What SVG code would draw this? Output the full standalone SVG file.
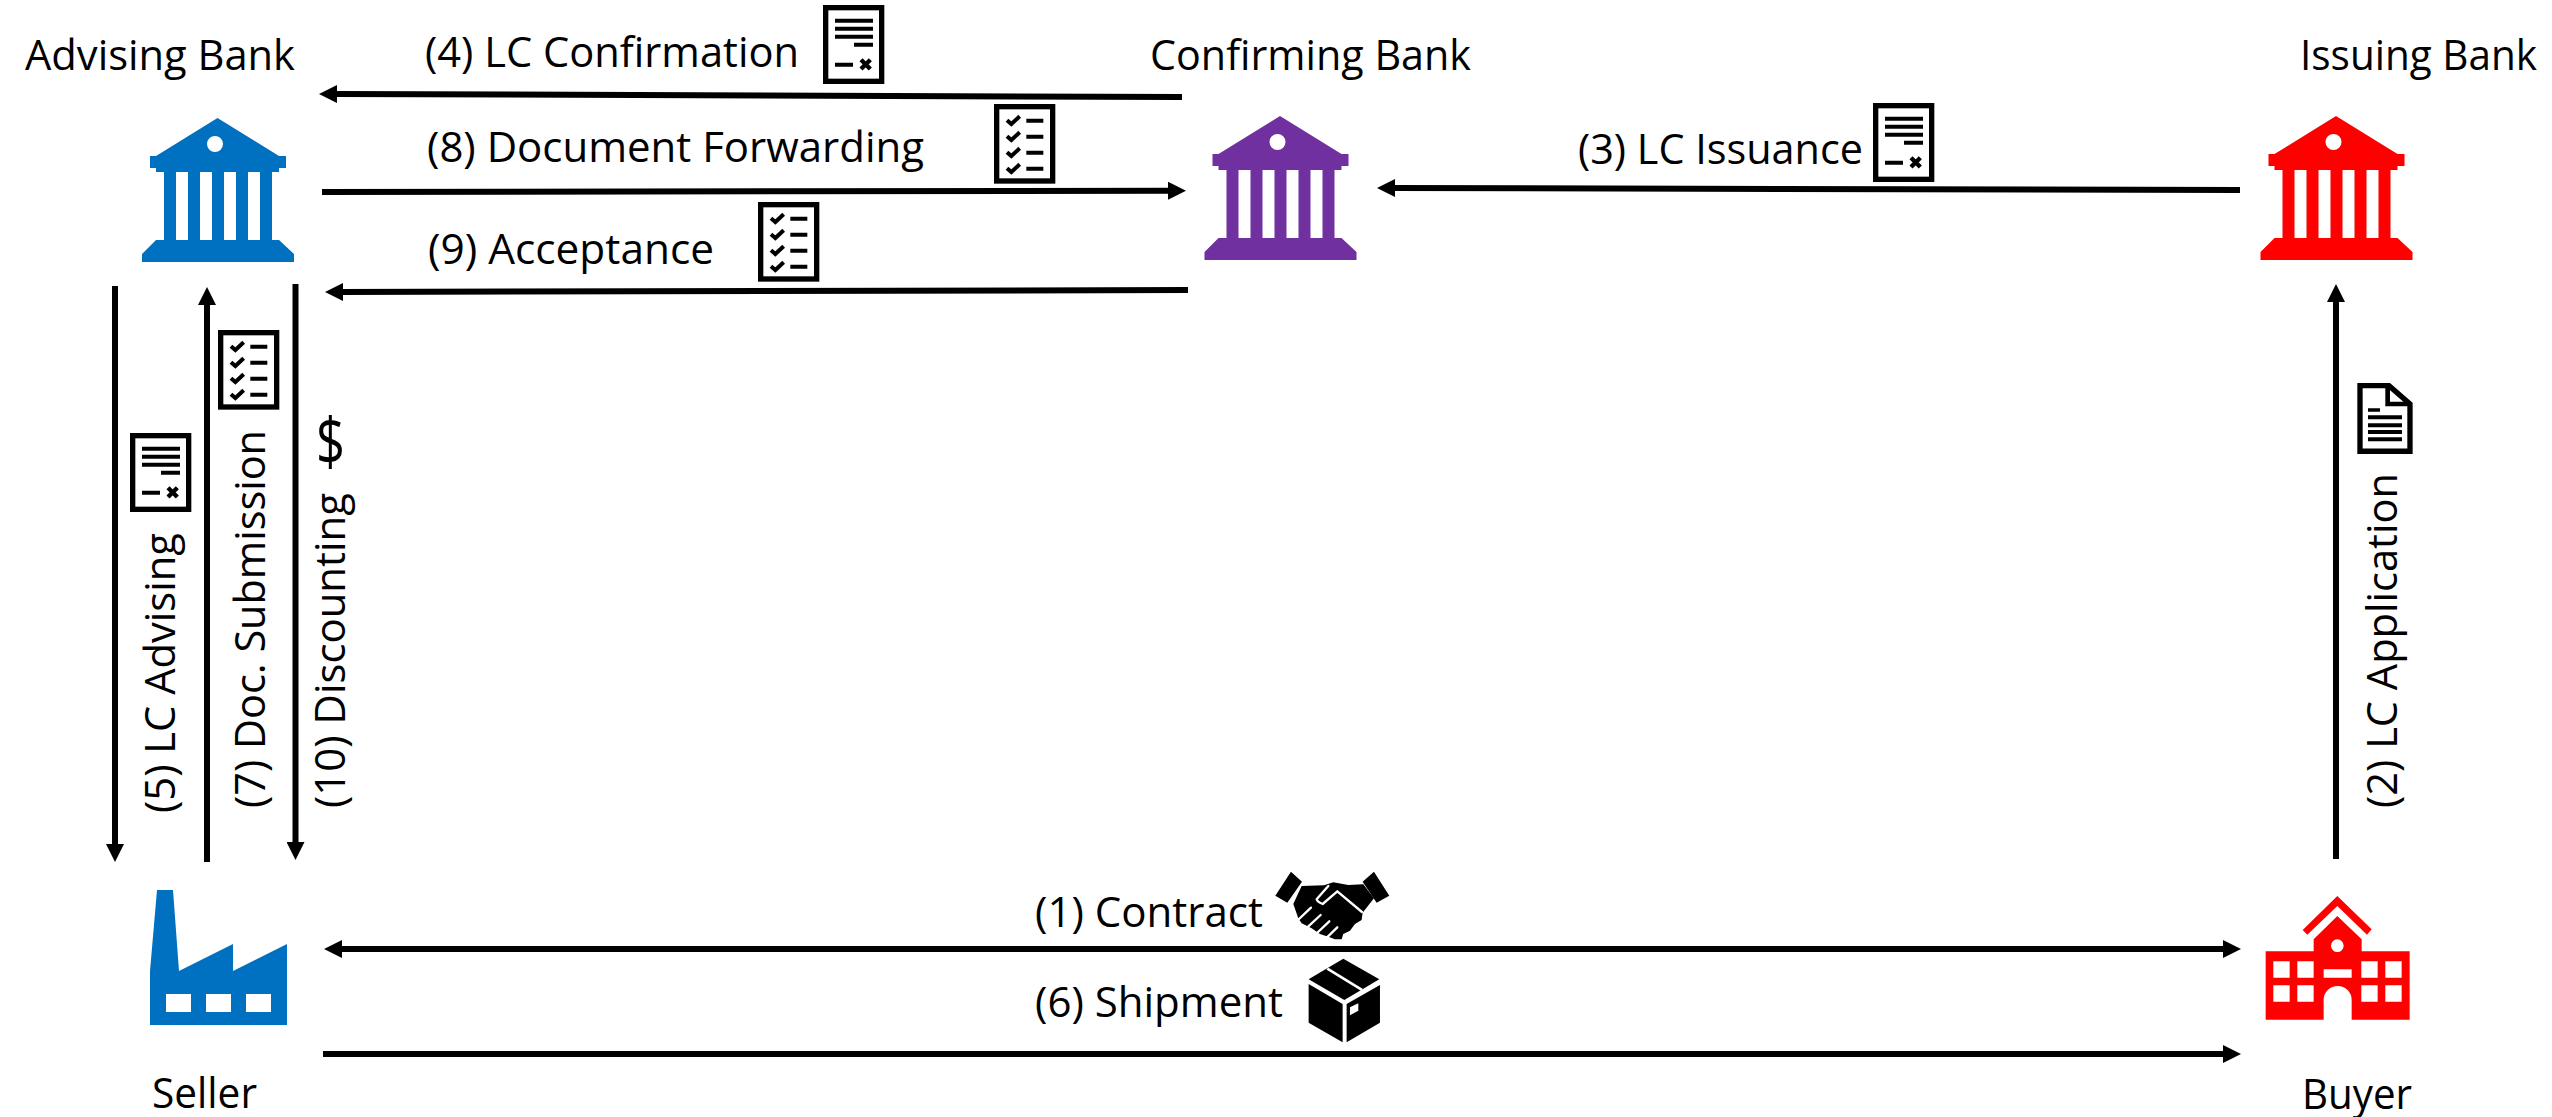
<svg xmlns="http://www.w3.org/2000/svg" width="2552" height="1117" viewBox="0 0 2552 1117">
<style>
text{font-family:"Open Sans","Lato","Liberation Sans",sans-serif;font-size:42px;fill:#000;font-variant-ligatures:none}
.conn{fill:none;stroke:#000;stroke-width:6}
.arrow{marker-end:url(#head)}
.both{marker-start:url(#head);marker-end:url(#head)}
.blue{fill:#0070c0}.purple{fill:#7030a0}.red{fill:#f00}
.frame{fill:#fff;stroke:#000;stroke-width:16}
.ink{fill:#000}
.tick{fill:none;stroke:#000;stroke-width:12}
.cut{fill:none;stroke:#fff;stroke-width:7;stroke-linecap:round;stroke-linejoin:round}
</style>
<defs>
<marker id="head" markerUnits="userSpaceOnUse" markerWidth="18" markerHeight="18" refX="2" refY="9" orient="auto-start-reverse"><path d="M0 0L18 9L0 18Z" fill="#000"/></marker>
<path id="bank" fill-rule="evenodd" d="M217.5 118L279 156H286V168H279V172H272V240H279L294 254V262H142V254L156 240H164V172H156V168H150V156H156ZM176 172H188V240H176ZM200 172H212V240H200ZM224 172H236V240H224ZM248 172H260V240H248ZM207 144a8 8 0 1 0 16 0a8 8 0 1 0 -16 0Z"/>
<g id="lc-doc" transform="scale(.3333)">
<rect class="frame" x="8" y="8" width="168" height="221"/>
<path class="ink" d="M36 41H150V53H36ZM36 65H150V77H36ZM36 89H150V101H36ZM93 113H150V125H93ZM36 173H90V185H36Z"/>
<path d="M114 164L142 192M142 164L114 192" stroke="#000" stroke-width="13" fill="none"/>
</g>
<g id="check-doc" transform="scale(.3333)">
<rect class="frame" x="8" y="8" width="168" height="223"/>
<path class="ink" d="M97 44H148V56H97ZM97 92H148V104H97ZM97 140H148V152H97ZM97 188H148V200H97Z"/>
<path class="tick" d="M39 49L52 60L77 37M39 97L52 108L77 85M39 145L52 156L77 133M39 193L52 204L77 181"/>
</g>
</defs>

<g id="connectors">
<path class="conn arrow" d="M1182 97L335 94"/>
<path class="conn arrow" d="M322 192L1170 190.7"/>
<path class="conn arrow" d="M1188 290L341 292"/>
<path class="conn arrow" d="M2240 190L1393 188"/>
<path class="conn arrow" d="M115 286V846"/>
<path class="conn arrow" d="M207 862V303"/>
<path class="conn arrow" d="M295.500 284V844"/>
<path class="conn arrow" d="M2336 859V300"/>
<path class="conn both" d="M340 949H2225"/>
<path class="conn arrow" d="M323 1054H2225"/>
</g>

<g id="advising-bank">
<text x="25" y="70" textLength="270" lengthAdjust="spacingAndGlyphs">Advising Bank</text>
<use href="#bank" class="blue"/>
</g>
<g id="confirming-bank">
<text x="1150" y="70" textLength="321" lengthAdjust="spacingAndGlyphs">Confirming Bank</text>
<use href="#bank" class="purple" transform="translate(1062.500 -2)"/>
</g>
<g id="issuing-bank">
<text x="2300" y="70" textLength="237" lengthAdjust="spacingAndGlyphs">Issuing Bank</text>
<use href="#bank" class="red" transform="translate(2118.500 -2)"/>
</g>
<g id="seller">
<path class="blue" fill-rule="evenodd" d="M157 890H173L179 971L233 944V971L287 944V1025H150V971ZM166 994V1012H191V994ZM206 994V1012H231V994ZM246 994V1012H271V994Z"/>
<text x="152" y="1108" textLength="105" lengthAdjust="spacingAndGlyphs">Seller</text>
</g>
<g id="buyer">
<g transform="translate(2220 860) scale(.3333)">
<path class="red" d="M352 108L455 208L441 224L352 138L262 224L248 210Z"/>
<path class="red" fill-rule="evenodd" d="M352 168L425 238V274H569V479H395V420A42 42 0 0 0 311 420V479H137V274H281V238ZM333 257a19 19 0 1 0 38 0a19 19 0 1 0 -38 0ZM160 304V353H209V304ZM232 304V353H281V304ZM424 304V353H473V304ZM496 304V353H545V304ZM160 376V425H209V376ZM232 376V425H281V376ZM424 376V425H473V376ZM496 376V425H545V376ZM311 328V353H395V328Z"/>
</g>
<text x="2302" y="1109" textLength="110" lengthAdjust="spacingAndGlyphs">Buyer</text>
</g>

<g id="step-1">
<text x="1035" y="927" textLength="228" lengthAdjust="spacingAndGlyphs">(1) Contract</text>
<g transform="translate(1000 840) scale(.3333)">
<path class="ink" d="M873 95L906 125L862 188L826 167ZM1122 95L1168 167L1130 188L1088 125Z"/>
<path class="ink" d="M905 138L972 136L1000 127L1045 135L1090 133L1122 175L1088 218L1085 240L1065 252L1050 272L1030 282L1025 298L1005 298L985 290L960 282L935 265L905 250L895 235L880 192Z"/>
<path class="cut" d="M1086 216L1012 154L968 192Q952 186 950 178L985 138"/>
<path class="cut" d="M894 240L933 203M922 262L962 225M948 282L988 244M975 298L1012 262"/>
</g>
</g>
<g id="step-2">
<text transform="translate(2397 808) rotate(-90)" textLength="335" lengthAdjust="spacingAndGlyphs">(2) LC Application</text>
<g transform="translate(2240 0) scale(.3333)">
<path d="M360 1157H447L510 1212V1354H360Z" fill="#fff" stroke="#000" stroke-width="16"/>
<path d="M443 1157V1212H510" fill="none" stroke="#000" stroke-width="14"/>
<path class="ink" d="M384 1225H420V1235H384ZM384 1246H486V1258H384ZM384 1270H486V1282H384ZM384 1290H486V1302H384ZM384 1312H486V1324H384Z"/>
</g>
</g>
<g id="step-3">
<text x="1578" y="164" textLength="285" lengthAdjust="spacingAndGlyphs">(3) LC Issuance</text>
<use href="#lc-doc" transform="translate(1873 103)"/>
</g>
<g id="step-4">
<text x="425" y="67" textLength="374" lengthAdjust="spacingAndGlyphs">(4) LC Confirmation</text>
<use href="#lc-doc" transform="translate(823 5)"/>
</g>
<g id="step-5">
<text transform="translate(175 813) rotate(-90)" textLength="280" lengthAdjust="spacingAndGlyphs">(5) LC Advising</text>
<use href="#lc-doc" transform="translate(130 433)"/>
</g>
<g id="step-6">
<text x="1035" y="1017" textLength="248" lengthAdjust="spacingAndGlyphs">(6) Shipment</text>
<g transform="translate(1000 840) scale(.3333)">
<path class="ink" d="M1030 356L1138 418L1033 480L926 418Z"/>
<path d="M982 386L1086 450" stroke="#fff" stroke-width="8" fill="none"/>
<path class="ink" d="M926 432L1028 492V607L926 548ZM1040 492L1140 435V548L1040 607Z"/>
<path fill="#fff" d="M1050 502L1075 490V512L1050 526Z"/>
</g>
</g>
<g id="step-7">
<text transform="translate(265 808) rotate(-90)" textLength="378" lengthAdjust="spacingAndGlyphs">(7) Doc. Submission</text>
<use href="#check-doc" transform="translate(218 330)"/>
</g>
<g id="step-8">
<text x="427" y="162" textLength="497" lengthAdjust="spacingAndGlyphs">(8) Document Forwarding</text>
<use href="#check-doc" transform="translate(994 104)"/>
</g>
<g id="step-9">
<text x="428" y="264" textLength="286" lengthAdjust="spacingAndGlyphs">(9) Acceptance</text>
<use href="#check-doc" transform="translate(758 202)"/>
</g>
<g id="step-10">
<text transform="translate(345 808) rotate(-90)" textLength="315" lengthAdjust="spacingAndGlyphs">(10) Discounting</text>
<text x="316" y="465" style="font-size:66px" textLength="29" lengthAdjust="spacingAndGlyphs">$</text>
</g>
</svg>
